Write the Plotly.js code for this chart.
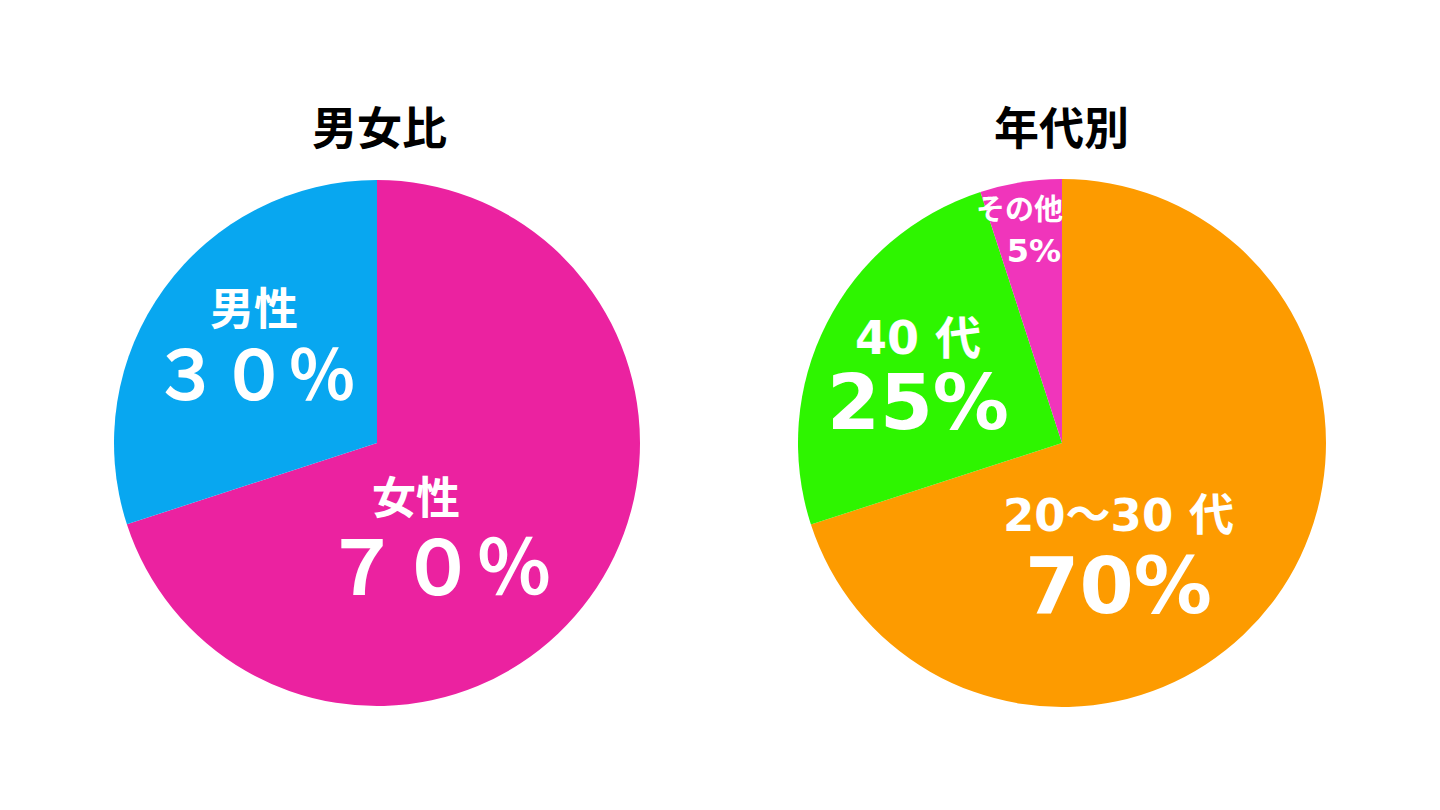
<!DOCTYPE html>
<html>
<head>
<meta charset="utf-8">
<script src="https://cdn.plot.ly/plotly-3.0.1.min.js"></script>
<style>html,body{margin:0;padding:0;background:#fff;}#chart{width:1440px;height:810px;}</style>
</head>
<body>
<div id="chart"></div>
<script>
// ---- data ----
const genderTitle = '男女比';
const genderLabels = ['女性', '男性'];
const genderValues = [70, 30];
const genderColors = ['#EB22A0', '#08A7F0'];

const ageTitle = '年代別';
const ageLabels = ['20～30 代', '40 代', 'その他'];
const ageValues = [70, 25, 5];
const ageColors = ['#FD9B00', '#2EF500', '#F035BB'];

// ---- helpers ----
const W = 1440, H = 810;
const px = x => x / W;
const py = y => 1 - y / H;
const toFullWidth = s => s.replace(/[0-9%]/g, c => c === '%' ? '％' : String.fromCharCode(c.charCodeAt(0) + 0xFEE0));
const CJK = '"Noto Sans CJK JP", "Noto Sans", sans-serif';
const LATIN = '"DejaVu Sans", "Noto Sans CJK JP", sans-serif';
const IDSP = '\u3000';

const traces = [
  {
    type: 'pie', labels: genderLabels, values: genderValues,
    marker: {colors: genderColors, line: {width: 0}},
    sort: false, direction: 'clockwise', rotation: 0,
    textinfo: 'none', hoverinfo: 'label+percent', showlegend: false,
    domain: {x: [px(114), px(640)], y: [py(706), py(180)]}
  },
  {
    type: 'pie', labels: ageLabels, values: ageValues,
    marker: {colors: ageColors, line: {width: 0}},
    sort: false, direction: 'clockwise', rotation: 0,
    textinfo: 'none', hoverinfo: 'label+percent', showlegend: false,
    domain: {x: [px(798), px(1326)], y: [py(707), py(179)]}
  }
];

function title(text, x, y) {
  return {text: text, x: px(x), y: py(y), xref: 'paper', yref: 'paper',
    xanchor: 'center', yanchor: 'middle', showarrow: false,
    font: {family: CJK, size: 45, color: '#000000', weight: 'bold'}};
}

// two-line slice label: name (small) over percentage (large)
function label(name, pct, x, y, nameSize, pctSize, lineBase, family) {
  const text = '<span style="font-size:' + nameSize + 'px">' + name + '</span><br>' +
               '<span style="font-size:' + pctSize + 'px">' + pct + '</span>';
  return {text: text, x: px(x), y: py(y), xref: 'paper', yref: 'paper',
    xanchor: 'center', yanchor: 'middle', align: 'center', showarrow: false,
    font: {family: family, size: lineBase, color: '#ffffff', weight: 'bold'}};
}

const annotations = [
  title(genderTitle, 379, 125),
  title(ageTitle, 1061, 125),
  label(genderLabels[1], toFullWidth(genderValues[1] + '%'), 254, 347, 44, 68, 58, CJK),
  label(genderLabels[0] + IDSP, toFullWidth(genderValues[0] + '%'), 438, 540, 44, 76, 62, CJK),
  label(ageLabels[2] + IDSP, ageValues[2] + '%', 1034, 231, 29, 32, 32, LATIN),
  label(ageLabels[1], ageValues[1] + '%', 918, 379, 46, 76, 58, LATIN),
  label(ageLabels[0], ageValues[0] + '%', 1118, 560, 45, 78, 63, LATIN)
];

const layout = {
  width: W, height: H,
  margin: {l: 0, r: 0, t: 0, b: 0},
  paper_bgcolor: '#ffffff',
  showlegend: false,
  annotations: annotations
};

Plotly.newPlot('chart', traces, layout, {displayModeBar: false, staticPlot: true});
</script>
</body>
</html>
